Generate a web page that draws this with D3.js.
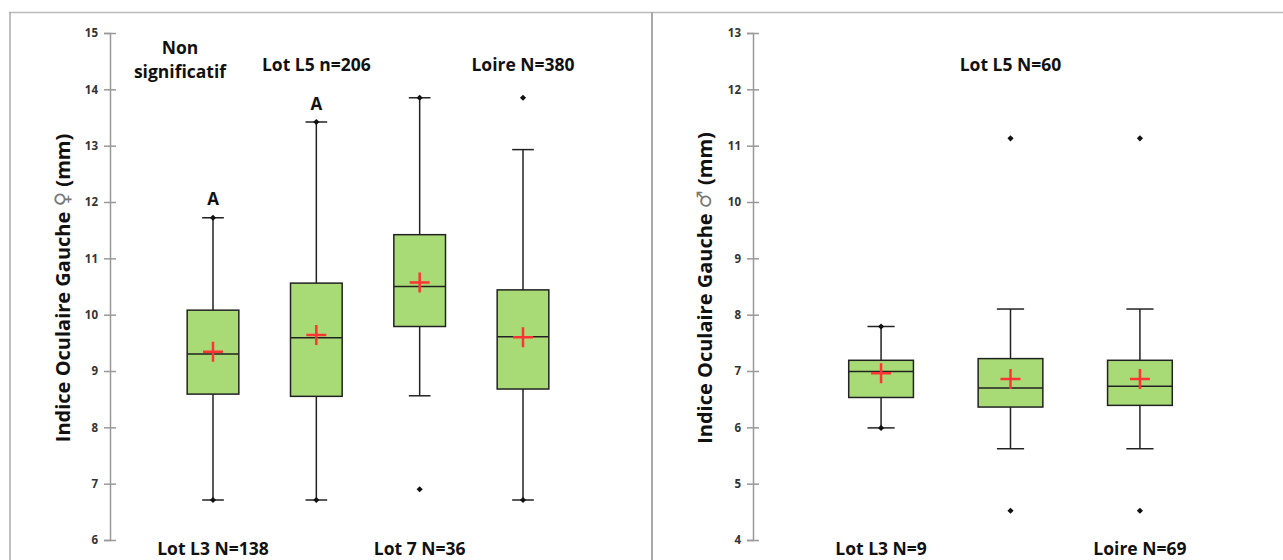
<!DOCTYPE html>
<html>
<head>
<meta charset="utf-8">
<script src="https://cdn.jsdelivr.net/npm/d3@7"></script>
<style>
  body { margin: 0; background: #fff; }
  svg { display: block; font-family: "Open Sans", Lato, sans-serif; }
</style>
</head>
<body>
<div id="chart"></div>
<script>
// --- data ---
const leftCats = ["Lot L3", "Lot L5", "Lot 7", "Loire"];
const leftNames = ["Lot L3 N=138", "Lot L5 n=206", "Lot 7 N=36", "Loire N=380"];
const leftSide = ["bottom", "top", "bottom", "top"];
const leftLetters = ["A", "A", "", ""];
const leftMin = [6.71, 6.71, 6.90, 6.71];
const leftLow = [6.71, 6.71, 8.56, 6.71];
const leftQ1 = [8.59, 8.55, 9.79, 8.68];
const leftMed = [9.30, 9.59, 10.50, 9.61];
const leftQ3 = [10.08, 10.56, 11.42, 10.44];
const leftHigh = [11.72, 13.42, 13.85, 12.93];
const leftMax = [11.72, 13.42, 13.85, 13.85];
const leftMean = [9.34, 9.64, 10.57, 9.60];
const leftTicks = [6, 7, 8, 9, 10, 11, 12, 13, 14, 15];

const rightCats = ["Lot L3", "Lot L5", "Loire"];
const rightNames = ["Lot L3 N=9", "Lot L5 N=60", "Loire N=69"];
const rightSide = ["bottom", "top", "bottom"];
const rightLetters = ["", "", ""];
const rightMin = [5.99, 4.52, 4.52];
const rightLow = [5.99, 5.62, 5.62];
const rightQ1 = [6.53, 6.36, 6.39];
const rightMed = [6.99, 6.70, 6.73];
const rightQ3 = [7.19, 7.22, 7.19];
const rightHigh = [7.79, 8.10, 8.10];
const rightMax = [7.79, 11.13, 11.13];
const rightMean = [6.96, 6.86, 6.86];
const rightTicks = [4, 5, 6, 7, 8, 9, 10, 11, 12, 13];

const W = 1283, H = 560;
const svg = d3.select("#chart").append("svg")
    .attr("width", W)
    .attr("height", H);

// frame lines
svg.append("line").attr("x1", 9).attr("x2", W).attr("y1", 12.5).attr("y2", 12.5)
    .attr("stroke", "#bbb").attr("stroke-width", 1.5);
svg.append("line").attr("x1", 10).attr("x2", 10).attr("y1", 12).attr("y2", H)
    .attr("stroke", "#aaa").attr("stroke-width", 1.5);
svg.append("line").attr("x1", 652).attr("x2", 652).attr("y1", 12).attr("y2", H)
    .attr("stroke", "#aaa").attr("stroke-width", 2);

function drawPanel(p) {
    const n = p.cats.length;
    const yScale = d3.scaleLinear()
        .domain([p.ticks[0], p.ticks[p.ticks.length - 1]])
        .range([540, 33]);
    const xScale = d3.scaleBand()
        .domain(p.cats)
        .range(p.xRange)
        .padding(0.5);
    const bw = xScale.bandwidth();
    const cx = d => xScale(d) + bw / 2;
    const cap = bw * 0.42;

    // y axis
    const axis = svg.append("g")
        .attr("transform", `translate(${p.axisX},0)`)
        .call(d3.axisLeft(yScale).tickValues(p.ticks).tickSize(6).tickPadding(6).tickFormat(d3.format("d")));
    axis.select(".domain").attr("stroke", "#999").attr("stroke-width", 1.5);
    axis.selectAll(".tick line").attr("x1", 6).attr("stroke", "#999").attr("stroke-width", 1.5);
    axis.selectAll(".tick text")
        .attr("fill", "#333")
        .style("font-size", "11.5px")
        .style("font-weight", "bold")
        .style("font-family", "'Open Sans', sans-serif");

    // y label
    const lab = svg.append("text")
        .attr("transform", `translate(${p.labelX},288) rotate(-90)`)
        .attr("text-anchor", "middle")
        .attr("dominant-baseline", "central")
        .style("font-size", "20px")
        .style("font-weight", "bold")
        .attr("fill", "#111");
    lab.append("tspan").text("Indice Oculaire Gauche ");
    lab.append("tspan").text(p.symbol)
        .style("font-weight", "normal")
        .style("font-family", "DejaVu Sans")
        .attr("fill", "#777");
    lab.append("tspan").text("   (mm)");

    const idx = d3.range(n);
    const g = svg.append("g");

    // whiskers
    g.selectAll(".whisk").data(idx).enter().append("line")
        .attr("x1", i => cx(p.cats[i])).attr("x2", i => cx(p.cats[i]))
        .attr("y1", i => yScale(p.low[i])).attr("y2", i => yScale(p.high[i]))
        .attr("stroke", "#222").attr("stroke-width", 1.5);
    ["low", "high"].forEach(k => {
        g.selectAll(".cap-" + k).data(idx).enter().append("line")
            .attr("x1", i => cx(p.cats[i]) - cap / 2).attr("x2", i => cx(p.cats[i]) + cap / 2)
            .attr("y1", i => yScale(p[k][i])).attr("y2", i => yScale(p[k][i]))
            .attr("stroke", "#222").attr("stroke-width", 1.5);
    });

    // boxes
    g.selectAll(".box").data(idx).enter().append("rect")
        .attr("x", i => xScale(p.cats[i]))
        .attr("y", i => yScale(p.q3[i]))
        .attr("width", bw)
        .attr("height", i => yScale(p.q1[i]) - yScale(p.q3[i]))
        .attr("fill", "#a8db76")
        .attr("stroke", "#222")
        .attr("stroke-width", 1.5);
    g.selectAll(".med").data(idx).enter().append("line")
        .attr("x1", i => xScale(p.cats[i])).attr("x2", i => xScale(p.cats[i]) + bw)
        .attr("y1", i => yScale(p.med[i])).attr("y2", i => yScale(p.med[i]))
        .attr("stroke", "#222").attr("stroke-width", 1.5);

    // min / max markers
    const diamond = d3.symbol().type(d3.symbolDiamond2).size(24);
    ["min", "max"].forEach(k => {
        g.selectAll(".pt-" + k).data(idx).enter().append("path")
            .attr("d", diamond)
            .attr("transform", i => `translate(${cx(p.cats[i])},${yScale(p[k][i])})`)
            .attr("fill", "#111");
    });

    // mean cross
    g.selectAll(".mean").data(idx).enter().append("path")
        .attr("d", "M-10,0H10M0,-10V10")
        .attr("transform", i => `translate(${cx(p.cats[i])},${yScale(p.mean[i])})`)
        .attr("stroke", "#ff3333").attr("stroke-width", 2.5);

    // significance letters
    g.selectAll(".letter").data(idx.filter(i => p.letters[i])).enter().append("text")
        .attr("x", i => cx(p.cats[i]))
        .attr("y", i => yScale(p.high[i]) - 19)
        .attr("text-anchor", "middle")
        .attr("dominant-baseline", "central")
        .style("font-size", "17px").style("font-weight", "bold")
        .attr("fill", "#111")
        .text(i => p.letters[i]);

    // group names
    g.selectAll(".name").data(idx).enter().append("text")
        .attr("x", i => cx(p.cats[i]))
        .attr("y", i => p.side[i] === "top" ? 64 : 548)
        .attr("text-anchor", "middle")
        .attr("dominant-baseline", "central")
        .style("font-size", "17.5px").style("font-weight", "bold")
        .attr("fill", "#111")
        .text(i => p.names[i]);
}

drawPanel({
    cats: leftCats, names: leftNames, side: leftSide, letters: leftLetters,
    min: leftMin, low: leftLow, q1: leftQ1, med: leftMed, q3: leftQ3,
    high: leftHigh, max: leftMax, mean: leftMean, ticks: leftTicks,
    axisX: 110, xRange: [135.5, 600.5], labelX: 62, symbol: "\u2640"
});
drawPanel({
    cats: rightCats, names: rightNames, side: rightSide, letters: rightLetters,
    min: rightMin, low: rightLow, q1: rightQ1, med: rightMed, q3: rightQ3,
    high: rightHigh, max: rightMax, mean: rightMean, ticks: rightTicks,
    axisX: 753, xRange: [784, 1237], labelX: 704, symbol: "\u2642"
});

// note in left panel
const note = svg.append("text")
    .attr("x", 180).attr("text-anchor", "middle")
    .style("font-size", "17.5px").style("font-weight", "bold")
    .attr("fill", "#111");
note.append("tspan").attr("x", 180).attr("y", 54).text("Non");
note.append("tspan").attr("x", 180).attr("y", 78).text("significatif");
</script>
</body>
</html>
